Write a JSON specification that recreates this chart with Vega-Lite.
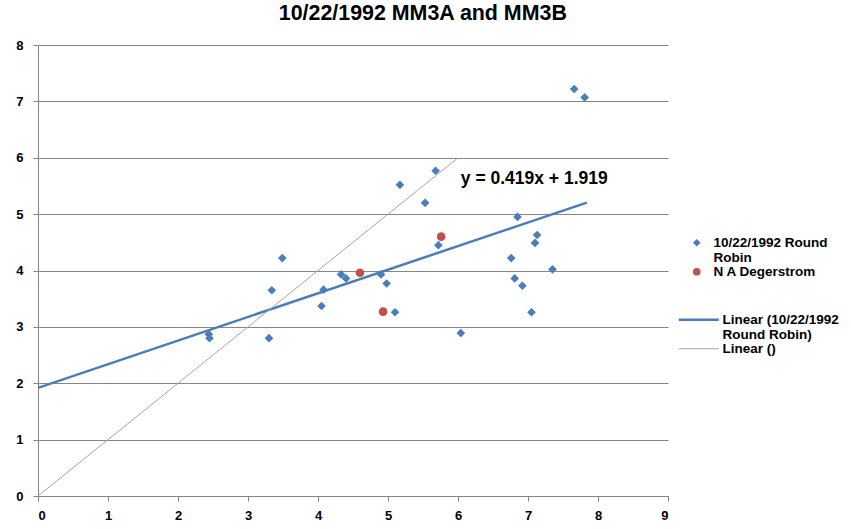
{
  "$schema": "https://vega.github.io/schema/vega-lite/v6.json",
  "autosize": "none",
  "width": 630,
  "height": 451,
  "padding": {"left": 38, "top": 45, "right": 183, "bottom": 33},
  "background": "white",
  "config": {
    "font": "Liberation Sans",
    "view": {"stroke": null},
    "axis": {"labelFont": "Liberation Sans", "labelFontSize": 13, "labelColor": "#000000", "labelFontWeight": "bold", "domainColor": "#868686", "tickColor": "#868686", "gridColor": "#868686", "tickSize": 5, "title": null, "labelOverlap": false}
  },
  "title": {"text": "10/22/1992 MM3A and MM3B", "fontSize": 21.4, "fontWeight": "bold", "font": "Liberation Sans", "color": "#000000", "anchor": "start", "dx": 263, "offset": 15},
  "datasets": {
    "pts": [
      {"x": 2.44, "y": 2.87, "series": "10/22/1992 Round Robin"},
      {"x": 2.45, "y": 2.80, "series": "10/22/1992 Round Robin"},
      {"x": 3.30, "y": 2.80, "series": "10/22/1992 Round Robin"},
      {"x": 3.34, "y": 3.65, "series": "10/22/1992 Round Robin"},
      {"x": 3.49, "y": 4.22, "series": "10/22/1992 Round Robin"},
      {"x": 4.05, "y": 3.37, "series": "10/22/1992 Round Robin"},
      {"x": 4.08, "y": 3.66, "series": "10/22/1992 Round Robin"},
      {"x": 4.33, "y": 3.93, "series": "10/22/1992 Round Robin"},
      {"x": 4.40, "y": 3.86, "series": "10/22/1992 Round Robin"},
      {"x": 4.90, "y": 3.93, "series": "10/22/1992 Round Robin"},
      {"x": 4.98, "y": 3.77, "series": "10/22/1992 Round Robin"},
      {"x": 5.10, "y": 3.26, "series": "10/22/1992 Round Robin"},
      {"x": 5.17, "y": 5.52, "series": "10/22/1992 Round Robin"},
      {"x": 5.53, "y": 5.20, "series": "10/22/1992 Round Robin"},
      {"x": 5.68, "y": 5.77, "series": "10/22/1992 Round Robin"},
      {"x": 5.72, "y": 4.45, "series": "10/22/1992 Round Robin"},
      {"x": 6.04, "y": 2.89, "series": "10/22/1992 Round Robin"},
      {"x": 6.76, "y": 4.22, "series": "10/22/1992 Round Robin"},
      {"x": 6.81, "y": 3.86, "series": "10/22/1992 Round Robin"},
      {"x": 6.85, "y": 4.95, "series": "10/22/1992 Round Robin"},
      {"x": 6.92, "y": 3.73, "series": "10/22/1992 Round Robin"},
      {"x": 7.05, "y": 3.26, "series": "10/22/1992 Round Robin"},
      {"x": 7.10, "y": 4.49, "series": "10/22/1992 Round Robin"},
      {"x": 7.13, "y": 4.63, "series": "10/22/1992 Round Robin"},
      {"x": 7.35, "y": 4.02, "series": "10/22/1992 Round Robin"},
      {"x": 7.66, "y": 7.22, "series": "10/22/1992 Round Robin"},
      {"x": 7.81, "y": 7.07, "series": "10/22/1992 Round Robin"},
      {"x": 4.60, "y": 3.96, "series": "N A Degerstrom"},
      {"x": 4.93, "y": 3.27, "series": "N A Degerstrom"},
      {"x": 5.76, "y": 4.60, "series": "N A Degerstrom"}
    ],
    "lines": [
      {"x": 0, "y": 1.919, "line": "Linear (10/22/1992 Round Robin)"},
      {"x": 7.84, "y": 5.204, "line": "Linear (10/22/1992 Round Robin)"},
      {"x": 0, "y": 0, "line": "Linear ()"},
      {"x": 6.0, "y": 6.0, "line": "Linear ()"}
    ],
    "eq": [{"x": 6.04, "y": 5.63, "label": "y = 0.419x + 1.919"}]
  },
  "encoding": {
    "x": {"field": "x", "type": "quantitative", "scale": {"domain": [0, 9], "nice": false}, "axis": {"values": [0,1,2,3,4,5,6,7,8,9], "format": "d", "grid": false, "labelPadding": 8}},
    "y": {"field": "y", "type": "quantitative", "scale": {"domain": [0, 8], "nice": false}, "axis": {"values": [0,1,2,3,4,5,6,7,8], "format": "d", "grid": true, "labelPadding": 10}}
  },
  "layer": [
    {
      "data": {"name": "lines"},
      "mark": {"type": "line"},
      "encoding": {
        "stroke": {"field": "line", "type": "nominal", "scale": {"domain": ["Linear (10/22/1992 Round Robin)", "Linear ()"], "range": ["#4a7ebb", "#a6a6a6"]},
          "legend": {"orient": "none", "legendX": 654, "legendY": 268, "title": null, "symbolType": "M-4,0H4", "symbolSize": 100, "symbolStrokeWidth": 2.5, "symbolFillColor": "transparent", "labelFontSize": 13.5, "labelFontWeight": "bold", "labelFont": "Liberation Sans", "labelColor": "#000000", "rowPadding": -6, "labelOffset": 17, "labelLimit": 200,
            "labelExpr": "datum.label == 'Linear (10/22/1992 Round Robin)' ? ['Linear (10/22/1992', 'Round Robin)'] : datum.label"}},
        "strokeWidth": {"field": "line", "type": "nominal", "scale": {"domain": ["Linear (10/22/1992 Round Robin)", "Linear ()"], "range": [2.5, 1]}, "legend": null},
        "detail": {"field": "line"}
      }
    },
    {
      "data": {"name": "pts"},
      "mark": {"type": "point", "filled": true, "opacity": 1, "size": 75},
      "encoding": {
        "fill": {"field": "series", "type": "nominal", "scale": {"domain": ["10/22/1992 Round Robin", "N A Degerstrom"], "range": ["#4a7ebb", "#c0504d"]},
          "legend": {"orient": "none", "legendX": 652, "legendY": 191, "title": null, "labelFontSize": 13.5, "labelFontWeight": "bold", "labelFont": "Liberation Sans", "labelColor": "#000000", "rowPadding": -9, "labelOffset": 10, "labelLimit": 200, "symbolSize": 60,
            "labelExpr": "datum.label == '10/22/1992 Round Robin' ? ['10/22/1992 Round', 'Robin'] : datum.label"}},
        "shape": {"field": "series", "type": "nominal", "scale": {"domain": ["10/22/1992 Round Robin", "N A Degerstrom"], "range": ["diamond", "circle"]}}
      }
    },
    {
      "data": {"name": "eq"},
      "mark": {"type": "text", "align": "left", "baseline": "middle", "fontSize": 17.5, "fontWeight": "bold", "font": "Liberation Sans", "color": "#000000"},
      "encoding": {
        "text": {"field": "label"}
      }
    }
  ]
}
